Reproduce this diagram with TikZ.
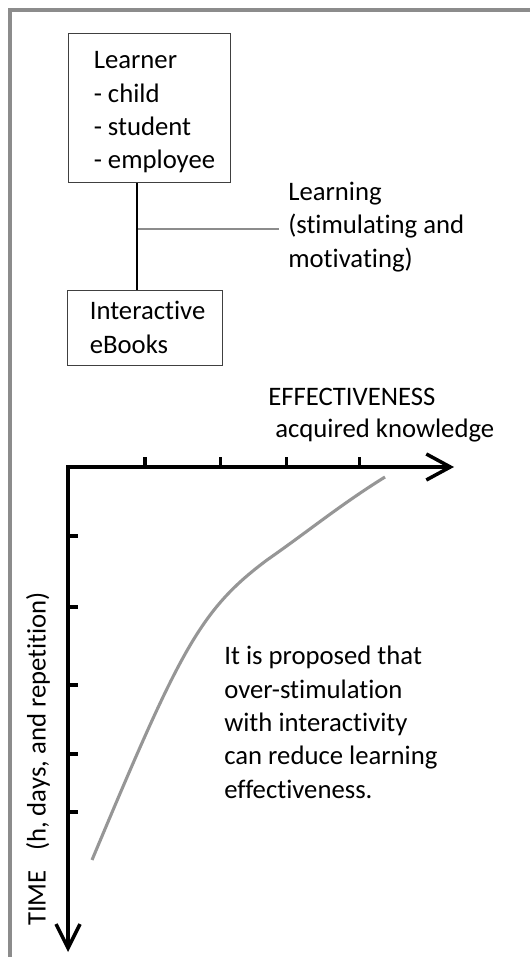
\documentclass[tikz,border=0pt]{standalone}
\usepackage{fontspec}
\setmainfont{Carlito}[Ligatures=NoCommon]
\usetikzlibrary{arrows.meta}

\definecolor{framegray}{RGB}{140,140,140}
\definecolor{curvegray}{RGB}{150,150,150}

\begin{document}
\begin{tikzpicture}[
    every node/.style={font=\fontsize{19pt}{23.7pt}\selectfont},
    box/.style={draw=black!75, line width=0.7pt},
    txt/.style={align=left, inner sep=0pt},
    axis/.style={line width=2.5pt, {Straight Barb[length=0.6cm,width=0.65cm]}-{Straight Barb[length=0.6cm,width=0.6cm]}},
    tick/.style={line width=2.5pt},
    curve/.style={line width=2.2pt, curvegray}]
  \useasboundingbox (0,0) rectangle (13.25,23.925);
  \draw[line width=2.8pt, framegray] (0.25,0) -- (0.25,23.675) -- (13.25,23.675);

  % learner and eBooks
  \node[box, minimum width=4.05cm, minimum height=3.725cm] (learner) at (3.725,21.2125) {};
  \node[txt, anchor=west, xshift=0.65cm, yshift=-0.1cm] (learnertxt) at (learner.west)
    {Learner\\- child\\- student\\- employee};
  \node[box, minimum width=3.875cm, minimum height=1.875cm] (ebooks) at (3.6125,15.7375) {};
  \node[txt, anchor=west, xshift=0.575cm] (ebookstxt) at (ebooks.west) {Interactive\\eBooks};
  \node[txt, anchor=west, inner xsep=0.225cm] (learning) at (6.975,18.25) {Learning\\(stimulating and\\motivating)};
  \coordinate (junc) at (3.425,18.2);
  \draw[line width=1.7pt, framegray] (junc) -- (junc -| learning.west);
  \draw[line width=1.8pt] (learner.south -| junc) -- (ebooks.north -| junc);

  % axes
  \node[txt, anchor=base west] (eff) at (6.7,13.775) {EFFECTIVENESS};
  \node[txt, anchor=base west] (acq) at (6.875,12.975) {acquired knowledge};
  \coordinate (O) at (1.7,12.25);
  \coordinate (xend) at (11.35,12.25);
  \coordinate (yend) at (1.7,0.125);
  \draw[axis] (xend) -- (O) -- (yend);
  \foreach \x in {3.625,5.5175,7.1675,8.9825}
    \draw[tick] (\x,12.25) -- ++(0,0.25);
  \foreach \y in {10.525,8.75,6.8,5.075,3.625}
    \draw[tick] (1.7,\y) -- ++(0.25,0);
  \node[txt, rotate=90] (time) at (0.95,4.95) {TIME \enspace(h, days, and repetition)};

  \draw[curve] (2.3,2.425) .. controls (4.5,7.675) and (5.0,8.675) .. (6.675,9.925)
    .. controls (7.75,10.675) and (8.5,11.3) .. (9.625,12.0);
  \node[txt, anchor=north west] (note) at (5.6,7.775) {It is proposed that\\over-stimulation\\with interactivity\\can reduce learning\\effectiveness.};
\end{tikzpicture}
\end{document}
